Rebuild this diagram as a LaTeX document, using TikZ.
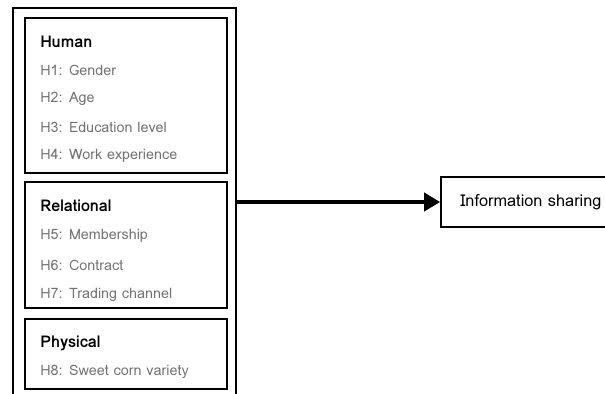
\documentclass[tikz,border=0pt]{standalone}
\usepackage{fontspec}
\setmainfont{Loma}
\usetikzlibrary{positioning,arrows.meta}
\definecolor{itemgray}{RGB}{115,115,115}
\begin{document}
\begin{tikzpicture}[x=0.025cm,y=-0.025cm]
\tikzstyle{every node}+=[inner sep=0pt]
\tikzstyle{group}=[draw=black,line width=1.2pt,minimum width=5.05cm]
\tikzstyle{head}=[anchor=west,font=\bfseries\fontsize{11.5}{13}\selectfont]
\tikzstyle{item}=[anchor=west,text=itemgray,font=\fontsize{10.2}{12}\selectfont]
\useasboundingbox (0,0) rectangle (605,394);
\clip (0,0) rectangle (605,394);
% outer frame and the three groups
\node [draw=black,line width=1.7pt,minimum width=5.575cm,minimum height=9.8cm] (factors) at (124.5,204) {};
\node [group,minimum height=3.875cm] (human) at (126,95.5) {};
\node [group,minimum height=3.15cm] (relational) at (126,245) {};
\node [group,minimum height=1.75cm] (physical) at (126,354) {};
% human
\node [head] (hhead) at (40,42) {Human};
\node [item] (h1) at (40,70) {H1: Gender};
\node [item] (h2) at (40,98.5) {H2: Age};
\node [item] (h3) at (40,127) {H3: Education level};
\node [item] (h4) at (40,155.5) {H4: Work experience};
% relational
\node [head] (rhead) at (40,206) {Relational};
\node [item] (h5) at (40,235.5) {H5: Membership};
\node [item] (h6) at (40,265) {H6: Contract};
\node [item] (h7) at (40,294.5) {H7: Trading channel};
% physical
\node [head] (phead) at (40,343) {Physical};
\node [item] (h8) at (40,372) {H8: Sweet corn variety};
% outcome
\node [draw=black,line width=1.2pt,minimum width=4.225cm,minimum height=1.25cm] (info) at (525.5,202) {};
\node [anchor=west,font=\fontsize{11.6}{13}\selectfont] (infotext) at (460,202) {Information sharing};
\draw [line width=3.2pt,-{Triangle[length=0.4cm,width=0.45cm]}] (factors.east |- info.west) -- (info.west);
\end{tikzpicture}
\end{document}
